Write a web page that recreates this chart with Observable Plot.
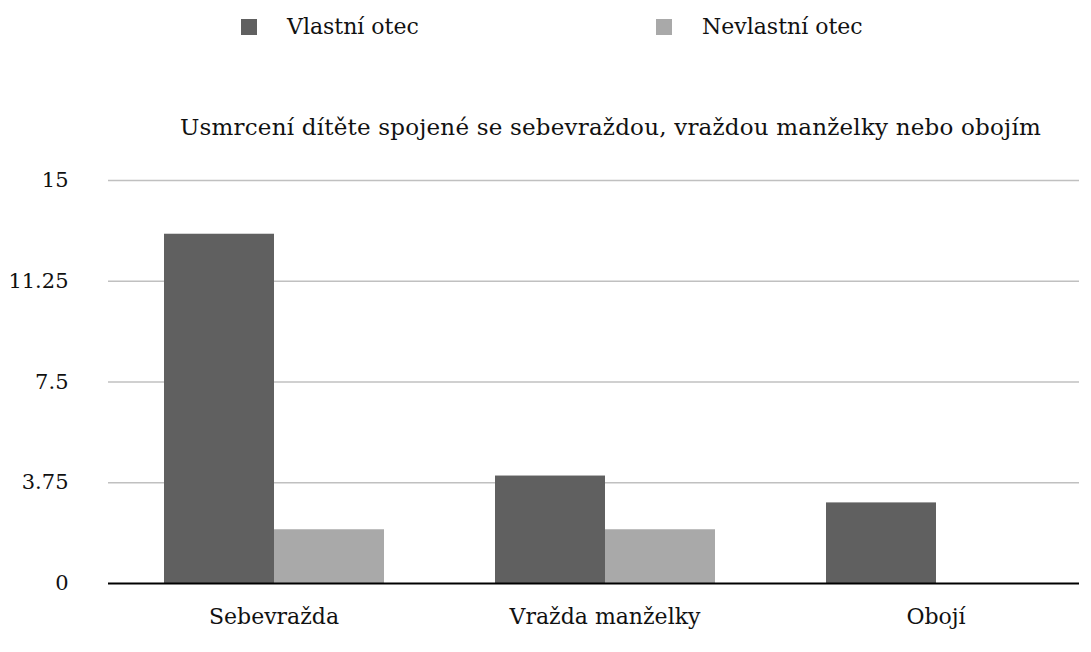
<!DOCTYPE html>
<html>
<head>
<meta charset="utf-8">
<script src="https://cdn.jsdelivr.net/npm/d3@7"></script>
<script src="https://cdn.jsdelivr.net/npm/@observablehq/plot@0.6"></script>
<style>
  html, body { margin: 0; padding: 0; background: #fff; overflow: hidden; }
  body { width: 1091px; height: 652px; font-family: "DejaVu Serif", serif; color: #111; position: relative; }
  #legend { position: relative; height: 100px; }
  .item { position: absolute; top: 14px; display: flex; align-items: center; font-size: 22px; }
  .sw { width: 16px; height: 16px; margin-right: 30px; }
  #title { position: absolute; top: 114px; left: 130px; width: 961px; text-align: center; font-size: 23px; letter-spacing: 0.2px; }
  #chart { position: absolute; top: 160px; left: 0; width: 1091px; clip-path: inset(0 12px 0 0); }
  #chart svg { max-width: none; }
</style>
</head>
<body>
<div id="legend"></div>
<div id="title"></div>
<div id="chart"></div>
<script>
const title = "Usmrcení dítěte spojené se sebevraždou, vraždou manželky nebo obojím";
const categories = ["Sebevražda", "Vražda manželky", "Obojí"];
const series = ["Vlastní otec", "Nevlastní otec"];
const vlastniOtec = [13, 4, 3];
const nevlastniOtec = [2, 2, 0];
const yTicks = [0, 3.75, 7.5, 11.25, 15];
const yTickLabels = ["0", "3.75", "7.5", "11.25", "15"];
const colors = ["#606060", "#a9a9a9"];

const rows = [];
categories.forEach((c, i) => {
  rows.push({cat: c, series: series[0], value: vlastniOtec[i]});
  rows.push({cat: c, series: series[1], value: nevlastniOtec[i]});
});

// legend
const legend = document.getElementById("legend");
const legendLeft = [241, 656];
series.forEach((s, i) => {
  const it = document.createElement("div");
  it.className = "item";
  it.style.left = legendLeft[i] + "px";
  const sw = document.createElement("div");
  sw.className = "sw";
  sw.style.background = colors[i];
  const t = document.createElement("span");
  t.textContent = s;
  it.append(sw, t);
  legend.append(it);
});
document.getElementById("title").textContent = title;

const chart = Plot.plot({
  width: 1091,
  height: 492,
  marginLeft: 107,
  marginRight: 13,
  marginTop: 20,
  marginBottom: 69,
  style: {fontFamily: "DejaVu Serif, serif", fontSize: "21px", color: "#111", background: "white"},
  fx: {domain: categories, range: [107.5, 1102], paddingInner: 0, paddingOuter: 0, label: null},
  x: {domain: series, paddingInner: 0, paddingOuter: 0.5, axis: null},
  y: {domain: [0, 15], axis: null},
  color: {domain: series, range: colors},
  marks: [
    Plot.ruleY(yTicks.filter(d => d > 0), {stroke: "#c0c0c0", strokeWidth: 1.7}),
    Plot.barY(rows, {fx: "cat", x: "series", y: "value", fill: "series"}),
    Plot.ruleY([0], {stroke: "#000", strokeWidth: 2}),
    Plot.axisY({ticks: yTicks, tickFormat: (d) => yTickLabels[yTicks.indexOf(d)], tickSize: 0, tickPadding: 40, label: null, fontSize: 21}),
    Plot.axisFx({anchor: "bottom", tickSize: 0, tickPadding: 25, label: null, fontSize: 22})
  ]
});
document.getElementById("chart").append(chart);
</script>
</body>
</html>
